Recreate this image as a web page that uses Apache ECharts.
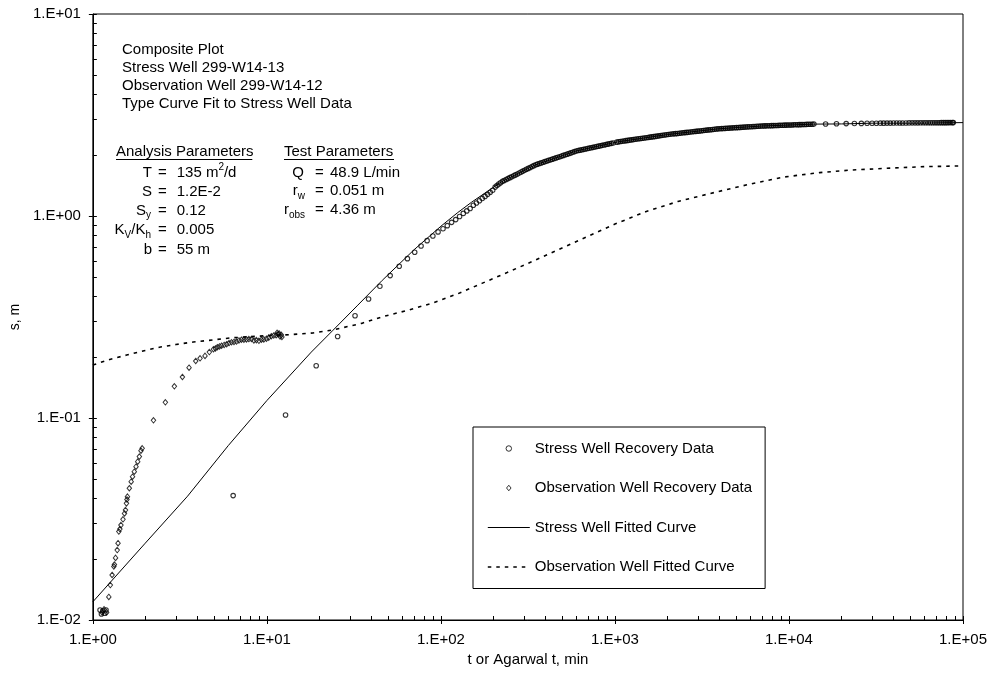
<!DOCTYPE html>
<html><head><meta charset="utf-8">
<script src="https://cdn.jsdelivr.net/npm/echarts@6/dist/echarts.min.js"></script>
<style>html,body{margin:0;padding:0;background:#fff}#c{width:990px;height:677px}</style>
</head><body><div id="c"></div>
<script>
// ---------- tick labels ----------
const xTickLabels = ['1.E+00','1.E+01','1.E+02','1.E+03','1.E+04','1.E+05'];
const yTickLabels = ['1.E-02','1.E-01','1.E+00','1.E+01'];

// ---------- stress well recovery data ----------
const stressDataT = [1.10,1.12,1.14,1.17,1.19,6.4,12.8,19.2,25.5,32.1,38.4,44.6,51.1,57.6,64.2,70.7,76.9,83.3,89.9,96.3,102.8,108.8,
115.2,121.6,128,134.4,140.8,147.2,153.6,160,166.4,172.8,179.2,185.6,192,198.4,
205,210,215,220,226,231,237,243,249,255,262,268,275,282,289,296,303,310,318,326,334,342,351,359,368,377,387,396,406,416,427,437,448,459,470,482,494,506,519,532,545,558,572,586,600,615,630,646,662,678,695,712,730,748,766,785,805,825,845,866,887,909,931,954,978,
1025,1050,1075,1100,1127,1155,1184,1213,1243,1274,1306,1338,1371,1405,1440,1475,1512,1549,1587,1626,1666,1707,1750,1793,1837,1882,1929,1976,
2025,2075,2127,2179,2233,2288,2345,2402,2462,2522,2585,2648,2714,2781,2850,2920,2993,3066,3142,3219,3299,3380,3464,3549,3638,3727,3820,3913,
4011,4109,4211,4314,4422,4530,4643,4756,4875,4994,5119,5244,5375,5506,5643,5781,5925,6070,6222,6374,6533,6692,6859,
7027,7202,7378,7562,7747,7940,8134,8337,8541,8754,8968,9192,9416,9651,9887,10134,10381,10641,10900,11173,11445,11731,12017,12318,12618,12934,13249,13575,13900,
16240,18750,21320,23770,26060,28100,30030,31780,33500,35000,36600,38200,39900,
41600,43300,45000,47000,49000,51000,53000,55000,57000,59000,61000,63000,65000,67000,69000,71000,73000,75000,77000,79000,81000,83000,85000,87000,88000];
const stressDataS = [0.0112,0.0107,0.0111,0.0108,0.0112,0.0413,0.1035,0.1815,0.253,0.321,0.388,0.449,0.507,0.564,0.615,0.661,0.71,0.755,0.796,0.834,0.865,0.896,
0.93,0.96,0.995,1.03,1.06,1.09,1.13,1.16,1.19,1.22,1.25,1.28,1.31,1.34,
1.39,1.415,1.44,1.462,1.484,1.499,1.515,1.532,1.548,1.565,1.582,1.598,1.615,1.633,1.651,1.668,1.685,1.703,1.72,1.739,1.757,1.775,1.793,1.806,1.818,1.832,1.845,1.858,1.871,1.885,1.898,1.912,1.925,1.939,1.952,1.966,1.98,1.995,2.009,2.024,2.038,2.053,2.067,2.083,2.099,2.109,2.118,2.128,2.138,2.148,2.157,2.167,2.177,2.187,2.196,2.207,2.217,2.227,2.237,2.247,2.257,2.268,2.278,2.289,2.299,
2.32,2.33,2.338,2.345,2.352,2.36,2.367,2.374,2.382,2.389,2.397,2.404,2.411,2.419,2.426,2.433,2.441,2.448,2.456,2.463,2.471,2.478,2.486,2.494,2.502,2.509,2.517,2.524,
2.532,2.539,2.545,2.551,2.557,2.563,2.569,2.575,2.581,2.587,2.594,2.6,2.606,2.612,2.618,2.624,2.631,2.637,2.643,2.649,2.656,2.662,2.668,2.674,2.681,2.687,2.694,2.7,
2.704,2.708,2.712,2.716,2.72,2.723,2.727,2.731,2.735,2.738,2.742,2.746,2.75,2.753,2.757,2.761,2.765,2.768,2.772,2.776,2.78,2.784,2.787,
2.79,2.793,2.795,2.797,2.799,2.801,2.803,2.805,2.807,2.81,2.812,2.814,2.816,2.818,2.82,2.822,2.824,2.827,2.829,2.831,2.833,2.835,2.837,2.839,2.841,2.844,2.846,2.848,2.85,
2.856,2.862,2.867,2.871,2.874,2.877,2.88,2.88,2.881,2.882,2.883,2.884,2.885,
2.886,2.887,2.888,2.889,2.89,2.891,2.891,2.892,2.893,2.893,2.894,2.895,2.895,2.896,2.896,2.897,2.897,2.898,2.898,2.899,2.899,2.9,2.9,2.9,2.9];

// ---------- observation well recovery data ----------
const obsDataT = [1.13,1.16,1.2,1.235,1.26,1.29,1.32,1.33,1.35,1.38,1.395,1.41,1.43,1.45,1.49,1.52,1.54,1.56,1.57,1.58,1.62,1.66,1.69,1.73,1.77,1.81,1.85,1.89,1.92,
2.23,2.61,2.94,3.27,3.57,3.9,4.13,4.41,4.67,4.93,5.06,5.19,5.34,5.49,5.68,5.87,6.06,6.26,6.47,6.69,6.91,7.14,7.38,7.63,7.88,8.15,8.42,8.7,9.0,9.3,9.6,9.94,10.25,10.6,10.95,11.3,11.6,11.9,11.75,12.1,11.45,12.2];
const obsDataS = [0.0109,0.0113,0.0109,0.013,0.0149,0.0167,0.0184,0.0188,0.0203,0.0222,0.024,0.0274,0.0282,0.0295,0.0315,0.0337,0.035,0.0378,0.0395,0.0408,0.0449,0.0484,0.0512,0.0542,0.0574,0.0608,0.0644,0.0689,0.0708,
0.0974,0.1196,0.1435,0.1596,0.1775,0.1915,0.1975,0.203,0.212,0.219,0.221,0.224,0.226,0.228,0.23,0.232,0.235,0.237,0.238,0.239,0.242,0.244,0.244,0.245,0.246,0.246,0.242,0.243,0.241,0.244,0.245,0.247,0.25,0.254,0.256,0.257,0.26,0.253,0.262,0.258,0.264,0.252];

// ---------- fitted curves ----------
const stressFitT = [1,2,3.5,6,10,18,24,33,46,70,100,125,150,185,224,280,348,450,600,800,1045,1450,2000,2800,3900,5200,7000,10000,13900,20000,30000,50000,100000];
const stressFitS = [0.0123,0.024,0.041,0.073,0.122,0.212,0.272,0.359,0.48,0.68,0.89,1.04,1.17,1.324,1.48,1.629,1.79,1.929,2.1,2.217,2.33,2.429,2.53,2.614,2.70,2.745,2.79,2.821,2.85,2.856,2.88,2.881,2.90];
const obsFitT = [1,1.25,1.565,2,2.45,3,3.78,5,6.15,8,10.57,14,18.4,24,35,46,65,89,125,172,240,333,500,700,1000,1500,2300,3900,6000,9400,15000,23000,35000,60000,100000];
const obsFitS = [0.183,0.195,0.205,0.216,0.2246,0.231,0.2378,0.244,0.249,0.253,0.256,0.259,0.2635,0.273,0.294,0.317,0.342,0.37,0.412,0.464,0.525,0.594,0.696,0.794,0.912,1.05,1.18,1.32,1.44,1.56,1.64,1.69,1.72,1.755,1.77];

const zip = (a, b) => a.map((v, i) => [v, b[i]]);
const FAM = "'Liberation Sans', Arial, sans-serif";
const FONT = "15px " + FAM;

function logTicks(lo, hi) {
  const a = [];
  for (let e = lo; e < hi; e++) for (let m = 1; m < 10; m++) a.push(+(m * Math.pow(10, e)).toPrecision(6));
  return a;
}
const xMinor = logTicks(0, 5).concat([100000]);
const yMinor = logTicks(-2, 1).concat([10]);

const xFmt = v => xTickLabels[Math.round(Math.log10(v))] || '';
const yFmt = v => yTickLabels[Math.round(Math.log10(v)) + 2] || '';

function txt(x, y, text, align, rich) {
  const st = { text, font: FONT, fill: '#000', textAlign: align || 'left', textVerticalAlign: 'middle', lineHeight: 20 };
  if (rich) st.rich = rich;
  return { type: 'text', x, y, style: st, z: 10 };
}
const RICH = {
  sub: { fontSize: 10, fontFamily: FAM, lineHeight: 10, verticalAlign: 'bottom', fill: '#000' },
  sup: { fontSize: 10, fontFamily: FAM, lineHeight: 10, verticalAlign: 'top', fill: '#000' }
};

const graphics = [
  txt(122, 49.5, 'Composite Plot'),
  txt(122, 67.8, 'Stress Well 299-W14-13'),
  txt(122, 86, 'Observation Well 299-W14-12'),
  txt(122, 104.3, 'Type Curve Fit to Stress Well Data'),
  txt(116, 151.7, 'Analysis Parameters'),
  { type: 'line', shape: { x1: 116, y1: 159.5, x2: 252.3, y2: 159.5 }, style: { stroke: '#000', lineWidth: 1 }, z: 10 },
  txt(284, 151.7, 'Test Parameters'),
  { type: 'line', shape: { x1: 284, y1: 159.5, x2: 394, y2: 159.5 }, style: { stroke: '#000', lineWidth: 1 }, z: 10 },
  // analysis parameters
  txt(152, 172.5, 'T', 'right'),
  txt(158, 172.5, '=', 'left'),
  txt(176.7, 172.5, '135 m{sup|2}/d', 'left', RICH),
  txt(152, 191.7, 'S', 'right'),
  txt(158, 191.7, '=', 'left'),
  txt(176.7, 191.7, '1.2E-2', 'left'),
  txt(151, 210.5, 'S{sub|y}', 'right', RICH),
  txt(158, 210.5, '=', 'left'),
  txt(176.7, 210.5, '0.12', 'left'),
  txt(151, 230, 'K{sub|V}/K{sub|h}', 'right', RICH),
  txt(158, 230, '=', 'left'),
  txt(176.7, 230, '0.005', 'left'),
  txt(152, 250, 'b', 'right'),
  txt(158, 250, '=', 'left'),
  txt(176.7, 250, '55 m', 'left'),
  // test parameters
  txt(304, 172.5, 'Q', 'right'),
  txt(315, 172.5, '=', 'left'),
  txt(330, 172.5, '48.9 L/min', 'left'),
  txt(305, 191, 'r{sub|w}', 'right', RICH),
  txt(315, 191, '=', 'left'),
  txt(330, 191, '0.051 m', 'left'),
  txt(305, 210, 'r{sub|obs}', 'right', RICH),
  txt(315, 210, '=', 'left'),
  txt(330, 210, '4.36 m', 'left')
];

const axisCommon = { splitLine: { show: false }, minorTick: { show: false }, minorSplitLine: { show: false } };

const option = {
  animation: false,
  backgroundColor: '#fff',
  grid: { left: 89, right: 27, top: 14, bottom: 57, show: true, borderColor: '#000', borderWidth: 1, backgroundColor: 'transparent' },
  xAxis: [
    Object.assign({
      type: 'log', logBase: 10, min: 1, max: 100000, position: 'bottom',
      name: 't or Agarwal t, min', nameLocation: 'middle', nameGap: 27,
      nameTextStyle: { fontSize: 15, color: '#000', fontFamily: FAM },
      axisLine: { show: true, lineStyle: { color: '#000', width: 1 } },
      axisTick: { show: true, inside: false, length: 4, lineStyle: { color: '#000', width: 1 } },
      axisLabel: { margin: 12, fontSize: 15, color: '#000', fontFamily: FAM, formatter: xFmt }
    }, axisCommon),
    Object.assign({
      type: 'log', logBase: 10, min: 1, max: 100000, position: 'bottom',
      axisLine: { show: false },
      axisTick: { show: true, inside: true, length: 4, customValues: xMinor, lineStyle: { color: '#000', width: 1 } },
      axisLabel: { show: false }
    }, axisCommon)
  ],
  yAxis: [
    Object.assign({
      type: 'log', logBase: 10, min: 0.01, max: 10, position: 'left',
      name: 's, m', nameLocation: 'middle', nameGap: 66, nameRotate: 90,
      nameTextStyle: { fontSize: 14, color: '#000', fontFamily: FAM },
      axisLine: { show: true, lineStyle: { color: '#000', width: 1 } },
      axisTick: { show: true, inside: false, length: 4, lineStyle: { color: '#000', width: 1 } },
      axisLabel: { margin: 12, fontSize: 15, color: '#000', fontFamily: FAM, formatter: yFmt }
    }, axisCommon),
    Object.assign({
      type: 'log', logBase: 10, min: 0.01, max: 10, position: 'left',
      axisLine: { show: false },
      axisTick: { show: true, inside: true, length: 4, customValues: yMinor, lineStyle: { color: '#000', width: 1 } },
      axisLabel: { show: false }
    }, axisCommon)
  ],
  legend: {
    orient: 'vertical', left: 473, top: 427,
    itemWidth: 42, itemHeight: 5.5, itemGap: 24.5,
    symbolKeepAspect: true,
    padding: [14, 13, 14, 14],
    borderColor: '#000', borderWidth: 1, backgroundColor: '#fff',
    textStyle: { fontSize: 15, color: '#000', fontFamily: FAM },
    data: [
      { name: 'Stress Well Recovery Data', icon: 'path://M2.25,0A2.25,2.25,0,1,1,2.249,0Z', itemStyle: { color: 'rgba(0,0,0,0)', borderColor: '#000', borderWidth: 1 } },
      { name: 'Observation Well Recovery Data', icon: 'path://M2.25,0L4.5,2.75L2.25,5.5L0,2.75Z', itemStyle: { color: 'rgba(0,0,0,0)', borderColor: '#000', borderWidth: 1 } },
      { name: 'Stress Well Fitted Curve', itemStyle: { opacity: 0 }, lineStyle: { color: '#000', width: 1, type: 'solid' } },
      { name: 'Observation Well Fitted Curve', itemStyle: { opacity: 0 }, lineStyle: { color: '#000', width: 1.6, type: [3.5, 5] } }
    ]
  },
  series: [
    {
      type: 'line', name: 'Stress Well Fitted Curve', data: zip(stressFitT, stressFitS),
      symbol: 'none', silent: true,
      lineStyle: { color: '#000', width: 1 }, itemStyle: { color: '#000' }, z: 3
    },
    {
      type: 'line', name: 'Observation Well Fitted Curve', data: zip(obsFitT, obsFitS),
      symbol: 'none', silent: true,
      lineStyle: { color: '#000', width: 1.6, type: [3.5, 5] }, itemStyle: { color: '#000' }, z: 3
    },
    {
      type: 'scatter', name: 'Stress Well Recovery Data', data: zip(stressDataT, stressDataS),
      symbol: 'circle', symbolSize: 4.5, silent: true,
      itemStyle: { color: 'rgba(0,0,0,0)', borderColor: '#000', borderWidth: 1.1 }, z: 4
    },
    {
      type: 'scatter', name: 'Observation Well Recovery Data', data: zip(obsDataT, obsDataS),
      symbol: 'diamond', symbolSize: [4.5, 5.5], silent: true,
      itemStyle: { color: 'rgba(0,0,0,0)', borderColor: '#000', borderWidth: 1 }, z: 4
    }
  ],
  graphic: graphics
};

const chart = echarts.init(document.getElementById('c'), null, { renderer: 'canvas' });
chart.setOption(option);
</script>
</body></html>
